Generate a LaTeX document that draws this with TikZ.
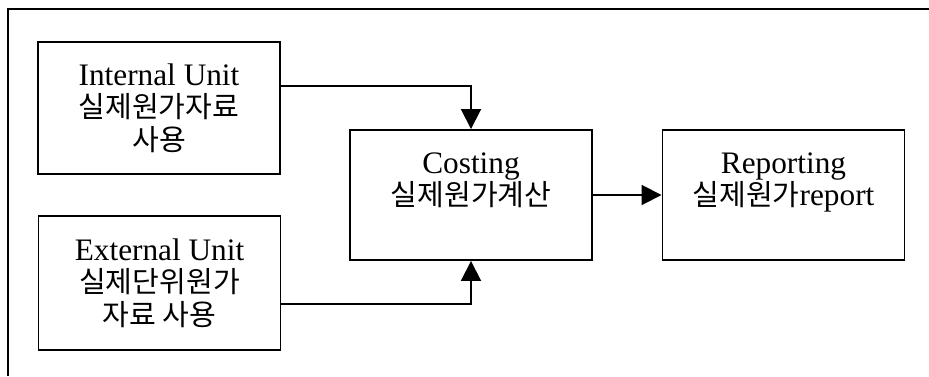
\documentclass[tikz,border=0pt]{standalone}
\usepackage{fontspec}
\setmainfont{Liberation Serif}
\newfontfamily\kr[Scale=0.93]{Noto Sans CJK KR}
\usepackage{tikz}
\usetikzlibrary{arrows.meta, positioning}
\tikzset{
  box/.style={rectangle, draw=black, fill=white,
    minimum width=4.84cm, minimum height=2.64cm, align=center,
    font=\fontsize{17.8}{18.4}\selectfont, line width=1.1pt},
  arrow/.style={-{Triangle[length=0.4cm, width=0.4cm]}, line width=1.1pt},
  frame/.style={line width=1.2pt}
}

\begin{document}
\begin{tikzpicture}
  \useasboundingbox (0,0) rectangle (18.58,7.52);
  \draw[frame] (0.16,0) -- (0.16,7.34) -- (18.58,7.34);
  \node[box] (internal) at (3.18,5.36) {Internal Unit\\{\kr 실제원가자료}\\{\kr 사용}};
  \node[box, minimum height=2.68cm] (external) at (3.19,1.86) {External Unit\\{\kr 실제단위원가}\\{\kr 자료 사용}};
  \node[box, minimum height=2.6cm] (costing) at (9.42,3.62) {Costing\\{\kr 실제원가계산}\\\mbox{}};
  \node[box, minimum height=2.6cm] (reporting) at (15.67,3.62) {Reporting\\{\kr 실제원가}report\\\mbox{}};
  \draw[arrow] (internal.east) ++(0,0.44) -| (costing.north);
  \draw[arrow] (external.east) ++(0,-0.42) -| (costing.south);
  \draw[arrow] (costing.east) -- (reporting.west);
\end{tikzpicture}
\end{document}
